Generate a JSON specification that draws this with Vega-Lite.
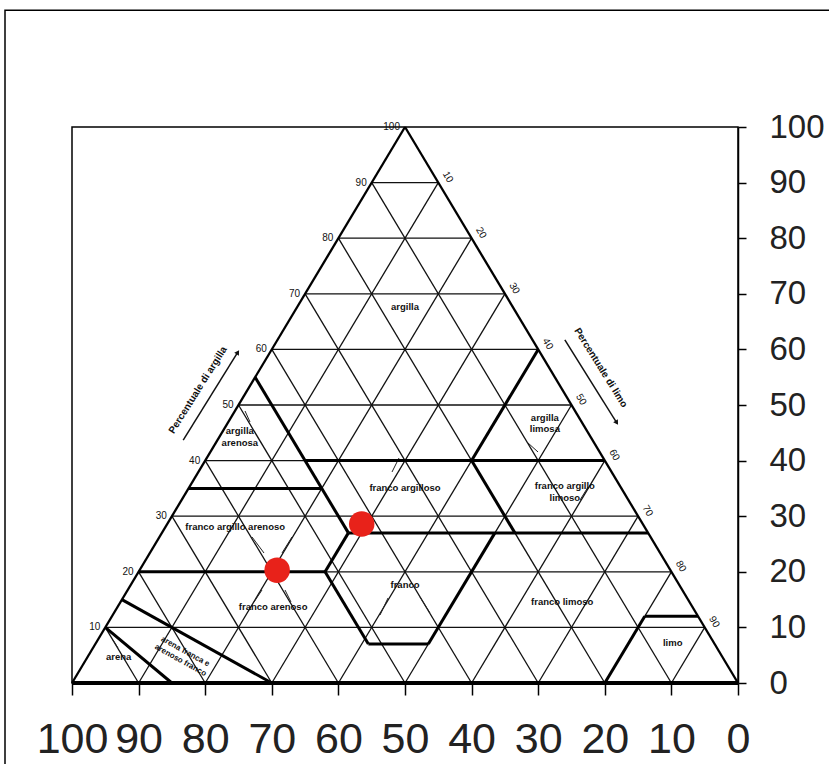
{
  "$schema": "https://vega.github.io/schema/vega-lite/v6.json",
  "width": 666,
  "height": 556,
  "autosize": {"type": "none"},
  "padding": {"left": 72, "top": 127, "right": 91, "bottom": 81},
  "background": "white",
  "config": {
    "view": {"stroke": "#000", "strokeWidth": 1.5},
    "axis": {"labelFont": "Liberation Sans", "labelColor": "#222", "tickColor": "#000", "tickWidth": 1.5, "grid": false, "title": null},
    "text": {"font": "Liberation Sans"}
  },
  "datasets": {
    "frame": [{"x": 110.06, "y": 121, "x2": -20, "y2": -20}],
    "grid": [
      {"x": 95, "y": 10, "x2": 5, "y2": 10}, {"x": 90, "y": 20, "x2": 10, "y2": 20}, {"x": 85, "y": 30, "x2": 15, "y2": 30},
      {"x": 80, "y": 40, "x2": 20, "y2": 40}, {"x": 75, "y": 50, "x2": 25, "y2": 50}, {"x": 70, "y": 60, "x2": 30, "y2": 60},
      {"x": 65, "y": 70, "x2": 35, "y2": 70}, {"x": 60, "y": 80, "x2": 40, "y2": 80}, {"x": 55, "y": 90, "x2": 45, "y2": 90},
      {"x": 10, "y": 0, "x2": 55, "y2": 90}, {"x": 20, "y": 0, "x2": 60, "y2": 80}, {"x": 30, "y": 0, "x2": 65, "y2": 70},
      {"x": 40, "y": 0, "x2": 70, "y2": 60}, {"x": 50, "y": 0, "x2": 75, "y2": 50}, {"x": 60, "y": 0, "x2": 80, "y2": 40},
      {"x": 70, "y": 0, "x2": 85, "y2": 30}, {"x": 80, "y": 0, "x2": 90, "y2": 20}, {"x": 90, "y": 0, "x2": 95, "y2": 10},
      {"x": 90, "y": 0, "x2": 45, "y2": 90}, {"x": 80, "y": 0, "x2": 40, "y2": 80}, {"x": 70, "y": 0, "x2": 35, "y2": 70},
      {"x": 60, "y": 0, "x2": 30, "y2": 60}, {"x": 50, "y": 0, "x2": 25, "y2": 50}, {"x": 40, "y": 0, "x2": 20, "y2": 40},
      {"x": 30, "y": 0, "x2": 15, "y2": 30}, {"x": 20, "y": 0, "x2": 10, "y2": 20}, {"x": 10, "y": 0, "x2": 5, "y2": 10}
    ],
    "leaders": [
      {"x": 72.97, "y": 26.26, "x2": 71.17, "y2": 23.38}, {"x": 66.97, "y": 26.26, "x2": 68.47, "y2": 23.38},
      {"x": 71.47, "y": 16.73, "x2": 72.67, "y2": 14.57}, {"x": 68.02, "y": 16.73, "x2": 67.12, "y2": 14.57},
      {"x": 51.95, "y": 37.95, "x2": 50.9, "y2": 40.47}, {"x": 52.55, "y": 15.29, "x2": 53.75, "y2": 12.23},
      {"x": 47.75, "y": 15.47, "x2": 46.25, "y2": 12.59}, {"x": 74.02, "y": 48.92, "x2": 73.27, "y2": 46.94},
      {"x": 31.53, "y": 43.17, "x2": 30.03, "y2": 41.55}, {"x": 22.52, "y": 35.25, "x2": 23.72, "y2": 32.91},
      {"x": 93.84, "y": 7.73, "x2": 93.09, "y2": 6.29}
    ],
    "bounds": [
      {"x": 72.5, "y": 55, "x2": 58.5, "y2": 27}, {"x": 65, "y": 40, "x2": 20, "y2": 40}, {"x": 40, "y": 40, "x2": 30, "y2": 60},
      {"x": 40, "y": 40, "x2": 33.5, "y2": 27}, {"x": 58.5, "y": 27, "x2": 13.5, "y2": 27}, {"x": 58.5, "y": 27, "x2": 62, "y2": 20},
      {"x": 82.5, "y": 35, "x2": 62.5, "y2": 35}, {"x": 90, "y": 20, "x2": 62, "y2": 20}, {"x": 62, "y": 20, "x2": 55.5, "y2": 7},
      {"x": 55.5, "y": 7, "x2": 46.5, "y2": 7}, {"x": 46.5, "y": 7, "x2": 36.5, "y2": 27}, {"x": 20, "y": 0, "x2": 14, "y2": 12},
      {"x": 14, "y": 12, "x2": 6, "y2": 12}, {"x": 70, "y": 0, "x2": 92.5, "y2": 15}, {"x": 85, "y": 0, "x2": 95, "y2": 10}
    ],
    "edges": [{"x": 100, "y": 0, "x2": 50, "y2": 100}, {"x": 50, "y": 100, "x2": 0, "y2": 0}],
    "base": [{"x": 100, "y": 0, "x2": 0, "y2": 0}],
    "arrows": [{"x": 83.3, "y": 43.7, "x2": 75.1, "y2": 59.5}, {"x": 26, "y": 61.7, "x2": 18.2, "y2": 46.8}],
    "headUp": [{"x": 75.1, "y": 59.5}],
    "headDown": [{"x": 18.2, "y": 46.8}],
    "classes": [
      {"x": 50, "y": 67.6, "label": "argilla"},
      {"x": 74.8, "y": 45.3, "label": "argilla\narenosa"},
      {"x": 29, "y": 47.7, "label": "argilla\nlimosa"},
      {"x": 50, "y": 35, "label": "franco argilloso"},
      {"x": 26, "y": 35.4, "label": "franco argillo\nlimoso"},
      {"x": 75.5, "y": 28, "label": "franco argillo arenoso"},
      {"x": 50, "y": 17.6, "label": "franco"},
      {"x": 69.8, "y": 13.7, "label": "franco arenoso"},
      {"x": 26.4, "y": 14.6, "label": "franco limoso"},
      {"x": 9.8, "y": 7.2, "label": "limo"},
      {"x": 93, "y": 4.7, "label": "arena"}
    ],
    "slanted": [{"x": 83.0, "y": 5.6, "label": "arena franca e\narenoso franco"}],
    "leftNums": [
      {"x": 95, "y": 10, "label": "10"}, {"x": 90, "y": 20, "label": "20"}, {"x": 85, "y": 30, "label": "30"},
      {"x": 80, "y": 40, "label": "40"}, {"x": 75, "y": 50, "label": "50"}, {"x": 70, "y": 60, "label": "60"},
      {"x": 65, "y": 70, "label": "70"}, {"x": 60, "y": 80, "label": "80"}, {"x": 55, "y": 90, "label": "90"},
      {"x": 50, "y": 100, "label": "100"}
    ],
    "rightNums": [
      {"x": 45, "y": 90, "label": "10"}, {"x": 40, "y": 80, "label": "20"}, {"x": 35, "y": 70, "label": "30"},
      {"x": 30, "y": 60, "label": "40"}, {"x": 25, "y": 50, "label": "50"}, {"x": 20, "y": 40, "label": "60"},
      {"x": 15, "y": 30, "label": "70"}, {"x": 10, "y": 20, "label": "80"}, {"x": 5, "y": 10, "label": "90"}
    ],
    "titleLeft": [{"x": 81.1, "y": 52.7, "label": "Percentuale di argilla"}],
    "titleRight": [{"x": 20.6, "y": 56.7, "label": "Percentuale di limo"}],
    "samples": [{"x": 69.2, "y": 20.3}, {"x": 56.5, "y": 28.6}]
  },
  "encoding": {
    "x": {
      "field": "x", "type": "quantitative",
      "scale": {"domain": [0, 100], "reverse": true, "nice": false, "zero": false},
      "axis": {"orient": "bottom", "values": [0, 10, 20, 30, 40, 50, 60, 70, 80, 90, 100], "tickSize": 12, "labelFontSize": 43, "labelPadding": 23, "domain": false, "labelOverlap": false, "labelFlush": false}
    },
    "y": {
      "field": "y", "type": "quantitative",
      "scale": {"domain": [0, 100], "nice": false, "zero": false},
      "axis": {"orient": "right", "values": [0, 10, 20, 30, 40, 50, 60, 70, 80, 90, 100], "tickSize": 8, "labelFontSize": 33, "labelPadding": 23, "domain": true, "domainColor": "#000", "domainWidth": 1.5, "labelOverlap": false, "labelFlush": false}
    }
  },
  "layer": [
    {"data": {"name": "frame"}, "mark": {"type": "rect", "fill": null, "stroke": "#000", "strokeWidth": 1.5, "clip": false},
     "encoding": {"x2": {"field": "x2"}, "y2": {"field": "y2"}}},
    {"data": {"name": "grid"}, "mark": {"type": "rule", "color": "#111", "strokeWidth": 1.3},
     "encoding": {"x2": {"field": "x2"}, "y2": {"field": "y2"}}},
    {"data": {"name": "leaders"}, "mark": {"type": "rule", "color": "#222", "strokeWidth": 1},
     "encoding": {"x2": {"field": "x2"}, "y2": {"field": "y2"}}},
    {"data": {"name": "bounds"}, "mark": {"type": "rule", "color": "#000", "strokeWidth": 3},
     "encoding": {"x2": {"field": "x2"}, "y2": {"field": "y2"}}},
    {"data": {"name": "edges"}, "mark": {"type": "rule", "color": "#000", "strokeWidth": 2.3},
     "encoding": {"x2": {"field": "x2"}, "y2": {"field": "y2"}}},
    {"data": {"name": "base"}, "mark": {"type": "rule", "color": "#000", "strokeWidth": 4},
     "encoding": {"x2": {"field": "x2"}, "y2": {"field": "y2"}}},
    {"data": {"name": "arrows"}, "mark": {"type": "rule", "color": "#111", "strokeWidth": 1.5},
     "encoding": {"x2": {"field": "x2"}, "y2": {"field": "y2"}}},
    {"data": {"name": "headUp"}, "mark": {"type": "point", "shape": "triangle-up", "filled": true, "color": "#111", "size": 30, "angle": 32, "opacity": 1}},
    {"data": {"name": "headDown"}, "mark": {"type": "point", "shape": "triangle-up", "filled": true, "color": "#111", "size": 30, "angle": 148, "opacity": 1}},
    {"data": {"name": "classes"}, "mark": {"type": "text", "fontSize": 9.5, "fontWeight": "bold", "color": "#111", "lineBreak": "\n", "align": "center", "baseline": "middle"},
     "encoding": {"text": {"field": "label"}}},
    {"data": {"name": "slanted"}, "mark": {"type": "text", "fontSize": 8, "fontWeight": "bold", "color": "#111", "lineBreak": "\n", "lineHeight": 10, "align": "center", "baseline": "middle", "angle": 29},
     "encoding": {"text": {"field": "label"}}},
    {"data": {"name": "leftNums"}, "mark": {"type": "text", "fontSize": 10, "color": "#111", "align": "right", "baseline": "middle", "dx": -5},
     "encoding": {"text": {"field": "label"}}},
    {"data": {"name": "rightNums"}, "mark": {"type": "text", "fontSize": 10, "color": "#111", "align": "center", "baseline": "middle", "angle": 60, "dy": -11},
     "encoding": {"text": {"field": "label"}}},
    {"data": {"name": "titleLeft"}, "mark": {"type": "text", "fontSize": 10, "fontWeight": "bold", "color": "#111", "align": "center", "baseline": "middle", "angle": -58},
     "encoding": {"text": {"field": "label"}}},
    {"data": {"name": "titleRight"}, "mark": {"type": "text", "fontSize": 10, "fontWeight": "bold", "color": "#111", "align": "center", "baseline": "middle", "angle": 58},
     "encoding": {"text": {"field": "label"}}},
    {"data": {"name": "samples"}, "mark": {"type": "point", "shape": "circle", "filled": true, "color": "#e8221a", "size": 650, "opacity": 1}}
  ]
}
